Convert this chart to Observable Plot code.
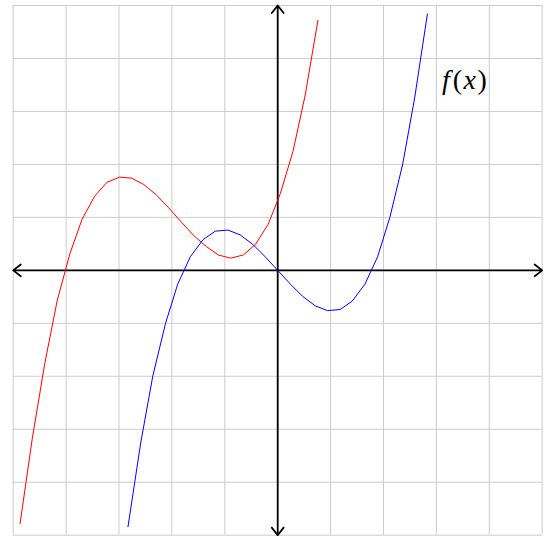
<!DOCTYPE html>
<html>
<head>
<meta charset="utf-8">
<script src="https://cdn.jsdelivr.net/npm/d3@7"></script>
<script src="https://cdn.jsdelivr.net/npm/@observablehq/plot@0.6"></script>
<style>
  html, body { margin: 0; padding: 0; background: #fff; }
</style>
</head>
<body>
<div id="chart"></div>
<script>
// ---- data ----
const gridTicks = [-5, -4, -3, -2, -1, 0, 1, 2, 3, 4, 5];
const xDomain = [-5, 5];
const yDomain = [-5, 5];

const blueX = [-2.83, -2.59, -2.36, -2.12, -1.89, -1.65, -1.41, -1.18, -0.94, -0.71, -0.47, -0.24, 0,
               0.24, 0.47, 0.71, 0.94, 1.18, 1.41, 1.65, 1.89, 2.12, 2.36, 2.59, 2.83];
const blueY = [-4.84, -3.26, -1.99, -1.00, -0.26, 0.26, 0.58, 0.74, 0.76, 0.67, 0.49, 0.26, 0,
               -0.26, -0.49, -0.67, -0.76, -0.74, -0.58, -0.26, 0.26, 1.00, 1.99, 3.26, 4.84];

const redX = [-4.87, -4.64, -4.40, -4.17, -3.93, -3.70, -3.46, -3.23, -2.99, -2.76, -2.53, -2.29, -2.06,
              -1.82, -1.59, -1.35, -1.12, -0.89, -0.65, -0.42, -0.18, 0.05, 0.29, 0.52, 0.76];
const redY = [-4.78, -3.18, -1.74, -0.58, 0.31, 0.96, 1.40, 1.66, 1.76, 1.74, 1.62, 1.42, 1.18,
              0.91, 0.66, 0.45, 0.29, 0.23, 0.29, 0.49, 0.87, 1.45, 2.25, 3.31, 4.72];

const labelText = ["f(x)"];

// ---- build tables ----
const blue = blueX.map((x, i) => ({x, y: blueY[i]}));
const red = redX.map((x, i) => ({x, y: redY[i]}));
const axes = [
  {x1: 0, y1: 0, x2: xDomain[1], y2: 0},
  {x1: 0, y1: 0, x2: xDomain[0], y2: 0},
  {x1: 0, y1: 0, x2: 0, y2: yDomain[1]},
  {x1: 0, y1: 0, x2: 0, y2: yDomain[0]}
];

const chart = Plot.plot({
  width: 550,
  height: 537,
  marginLeft: 12.7,
  marginRight: 8.3,
  marginTop: 5,
  marginBottom: 2.3,
  x: {domain: xDomain, axis: null},
  y: {domain: yDomain, axis: null},
  marks: [
    Plot.ruleX(gridTicks, {stroke: "#cccccc", strokeWidth: 1}),
    Plot.ruleY(gridTicks, {stroke: "#cccccc", strokeWidth: 1}),
    Plot.arrow(axes, {x1: "x1", y1: "y1", x2: "x2", y2: "y2", stroke: "black",
      strokeWidth: 1.8, headLength: 8, headAngle: 76, inset: 0}),
    Plot.line(red, {x: "x", y: "y", stroke: "#ff0000", strokeWidth: 1}),
    Plot.line(blue, {x: "x", y: "y", stroke: "#0000ff", strokeWidth: 1}),
    Plot.text(labelText, {x: 3.53, y: 3.60, text: d => d, fontSize: 28,
      fontFamily: "Liberation Serif", textAnchor: "middle", lineAnchor: "middle",
      fill: "black", className: "flabel"})
  ]
});

// render f(x) with italic letters and upright parentheses
const serif = "'Liberation Serif', 'DejaVu Serif', serif";
d3.select(chart).selectAll(".flabel text").each(function() {
  const t = d3.select(this);
  t.style("font-family", serif);
  t.text(null);
  t.append("tspan").style("font-family", serif).style("font-style", "italic").text("f");
  t.append("tspan").style("font-family", serif).style("font-style", "normal").attr("dx", 3).text("(");
  t.append("tspan").style("font-family", serif).style("font-style", "italic").attr("dx", 1.5).text("x");
  t.append("tspan").style("font-family", serif).style("font-style", "normal").attr("dx", 1.5).text(")");
});

document.getElementById("chart").appendChild(chart);
</script>
</body>
</html>
